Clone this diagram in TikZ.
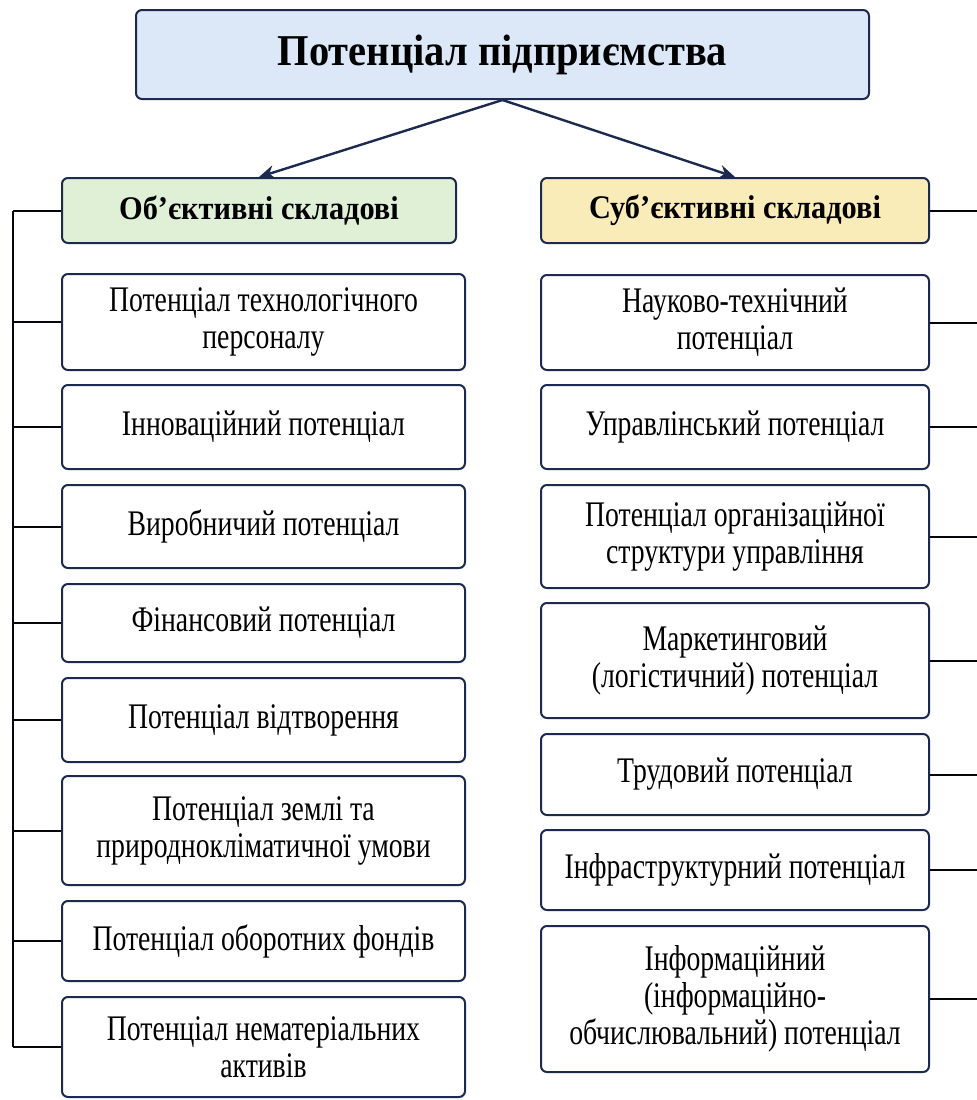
\documentclass[tikz,border=0pt]{standalone}
\usepackage{fontspec}
\setmainfont{Liberation Serif}
\newfontfamily\bodyfont[FakeStretch=0.77]{Liberation Serif}
\newfontfamily\headfont[FakeStretch=0.92]{Liberation Serif}
\usetikzlibrary{arrows.meta}
\definecolor{navy}{HTML}{1B2A4E}
\definecolor{topblue}{HTML}{DCE8F8}
\definecolor{objgreen}{HTML}{DFF0D6}
\definecolor{subyellow}{HTML}{FAECB8}
\tikzset{
  box/.style={draw=navy, line width=1pt, rounded corners=3pt, fill=white,
    align=center, inner sep=0pt, font=\bodyfont\fontsize{18}{18.5}\selectfont},
  head/.style={box, font=\headfont\bfseries\fontsize{16.5}{19}\selectfont, minimum height=32.5pt},
  link/.style={line width=1pt, draw=black!85!navy},
}
\begin{document}
\begin{tikzpicture}[x=0.5pt, y=-0.5pt]
        \useasboundingbox (0,0) rectangle (977,1100);
        \def\leftX{263.5}
        \def\rightX{735}
        \coordinate (BusTop) at (13,210.5);
        \coordinate (Edge) at (977,210.5);
        % top box
        \node[box, fill=topblue, minimum width=366.5pt, minimum height=44.5pt,
          font=\headfont\bfseries\fontsize{22}{26}\selectfont] (Potential) at (502.5,54.5) {Потенціал підприємства};
        \node[head, fill=objgreen, minimum width=197pt] (Obj) at (259,210.5) {Об’єктивні складові};
        \node[head, fill=subyellow, minimum width=194pt] (Subj) at (\rightX,210.5) {Суб’єктивні складові};
        \draw[navy, line width=1.2pt, -{Stealth[length=8pt, width=7pt]}] (Potential.south) -- (Obj.north);
        \draw[navy, line width=1.2pt, -{Stealth[length=8pt, width=7pt]}] (Potential.south) -- (Subj.north);
        % objective side
        \begin{scope}[every node/.append style={box, minimum width=201.5pt}]
          \node[minimum height=48pt] (ObjA) at (\leftX,322) {Потенціал технологічного\\персоналу};
          \node[minimum height=42pt] (ObjB) at (\leftX,427) {Інноваційний потенціал};
          \node[minimum height=41.5pt] (ObjC) at (\leftX,526.5) {Виробничий потенціал};
          \node[minimum height=39pt] (ObjD) at (\leftX,623) {Фінансовий потенціал};
          \node[minimum height=42pt] (ObjE) at (\leftX,720) {Потенціал відтворення};
          \node[minimum height=54.5pt] (ObjF) at (\leftX,830.5) {Потенціал землі та\\природнокліматичної умови};
          \node[minimum height=40pt] (ObjG) at (\leftX,941) {Потенціал оборотних фондів};
          \node[minimum height=50pt] (ObjH) at (\leftX,1047) {Потенціал нематеріальних\\активів};
        \end{scope}
        % subjective side
        \begin{scope}[every node/.append style={box, minimum width=194pt}]
          \node[minimum height=47.5pt] (SubjA) at (\rightX,322.5) {Науково-технічний\\потенціал};
          \node[minimum height=42pt] (SubjB) at (\rightX,427) {Управлінський потенціал};
          \node[minimum height=51.5pt] (SubjC) at (\rightX,536.5) {Потенціал організаційної\\структури управління};
          \node[minimum height=57.5pt] (SubjD) at (\rightX,660.5) {Маркетинговий\\(логістичний) потенціал};
          \node[minimum height=40.5pt] (SubjE) at (\rightX,774.5) {Трудовий потенціал};
          \node[minimum height=40pt] (SubjF) at (\rightX,870) {Інфраструктурний потенціал};
          \node[minimum height=73pt] (SubjG) at (\rightX,999) {Інформаційний\\(інформаційно-\\обчислювальний) потенціал};
        \end{scope}
        % connectors
        \draw[link] (BusTop) -- (BusTop |- ObjH.west);
        \foreach \n in {Obj,ObjA,ObjB,ObjC,ObjD,ObjE,ObjF,ObjG,ObjH}
          \draw[link] (\n.west) -- (\n.west -| BusTop);
        \foreach \n in {Subj,SubjA,SubjB,SubjC,SubjD,SubjE,SubjF,SubjG}
          \draw[link] (\n.east) -- (\n.east -| Edge);
    \end{tikzpicture}
\end{document}
